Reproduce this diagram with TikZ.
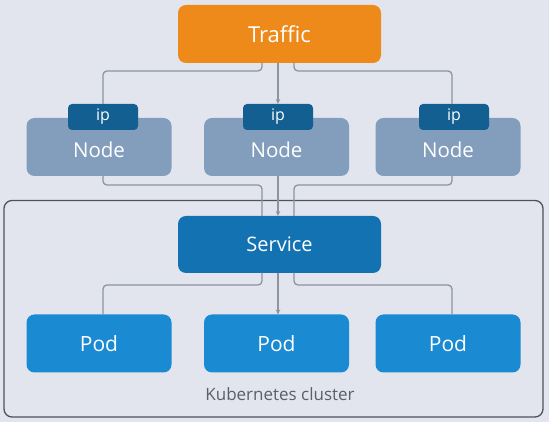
\documentclass[tikz,border=0pt]{standalone}
\usepackage{fontspec}
\setmainfont{Open Sans}
\usetikzlibrary{positioning,calc,arrows.meta}

\definecolor{bgcol}{HTML}{E3E5EE}
\definecolor{trafficcol}{HTML}{EE8A1A}
\definecolor{ipcol}{HTML}{135F92}
\definecolor{nodecol}{HTML}{829EBC}
\definecolor{servicecol}{HTML}{1372B2}
\definecolor{podcol}{HTML}{1A8BD2}
\definecolor{wirecol}{HTML}{8C94A0}
\definecolor{framecol}{HTML}{4E535B}
\definecolor{labelcol}{HTML}{5A5F68}

\begin{document}
\begin{tikzpicture}[x=1pt,y=1pt,
	box/.style={rounded corners=8pt,text=white,inner sep=0pt,outer sep=0pt},
	wire/.style={draw=wirecol,line width=1.3pt,rounded corners=4pt},
	arrowwire/.style={wire,-{Stealth[length=5pt,width=4.5pt]}}]
	\fill[bgcol] (0,0) rectangle (549,422);
	\useasboundingbox (0,0) rectangle (549,422);
	% cluster frame
	\node[draw=framecol,line width=1.3pt,rounded corners=8pt,minimum width=539,minimum height=216.5,inner sep=0pt] (cluster) at (273.5,113.25) {};
	\node[text=labelcol,font=\fontsize{17}{20}\selectfont] (clusterlabel) at (280,28) {Kubernetes cluster};
	% boxes
	\node[box,fill=trafficcol,minimum width=203,minimum height=58,font=\fontsize{22}{26}\selectfont] (traffic) at (279.5,388) {Traffic};
	\node[box,fill=nodecol,minimum width=145,minimum height=58,font=\fontsize{20.5}{24}\selectfont,text height=21.6pt,text depth=0pt] (node1) at (99,275) {Node};
	\node[box,fill=nodecol,minimum width=145,minimum height=58,font=\fontsize{20.5}{24}\selectfont,text height=21.6pt,text depth=0pt] (node2) at (276.5,275) {Node};
	\node[box,fill=nodecol,minimum width=145,minimum height=58,font=\fontsize{20.5}{24}\selectfont,text height=21.6pt,text depth=0pt] (node3) at (448,275) {Node};
	\node[box,fill=ipcol,rounded corners=4pt,minimum width=70,minimum height=26,font=\fontsize{16}{19}\selectfont] (ip1) at (103,305) {ip};
	\node[box,fill=ipcol,rounded corners=4pt,minimum width=70,minimum height=26,font=\fontsize{16}{19}\selectfont] (ip2) at (278,305) {ip};
	\node[box,fill=ipcol,rounded corners=4pt,minimum width=70,minimum height=26,font=\fontsize{16}{19}\selectfont] (ip3) at (454,305) {ip};
	\node[box,fill=servicecol,minimum width=203,minimum height=57,font=\fontsize{20}{24}\selectfont] (service) at (279.5,177.5) {Service};
	\node[box,fill=podcol,minimum width=145,minimum height=58,font=\fontsize{21}{25}\selectfont] (pod1) at (99,78.5) {Pod};
	\node[box,fill=podcol,minimum width=145,minimum height=58,font=\fontsize{21}{25}\selectfont] (pod2) at (276.5,78.5) {Pod};
	\node[box,fill=podcol,minimum width=145,minimum height=58,font=\fontsize{21}{25}\selectfont] (pod3) at (448,78.5) {Pod};
	% traffic to nodes
	\draw[wire] ($(traffic.south)+(-17.5,0)$) -- ++(0,-8) -| (ip1.north);
	\draw[arrowwire] (ip2.north |- traffic.south) -- (ip2.north);
	\draw[wire] ($(traffic.south)+(14.5,0)$) -- ++(0,-8) -| ($(ip3.north)+(-2,0)$);
	% nodes to service
	\draw[wire] (ip1.south |- node1.south) -- ++(0,-9) -| ($(service.north)+(-17.5,0)$);
	\draw[arrowwire] (ip2.south |- node2.south) -- (ip2.south |- service.north);
	\draw[wire] ($(ip3.south |- node3.south)+(-2,0)$) -- ++(0,-9) -| ($(service.north)+(14.5,0)$);
	% service to pods
	\draw[wire] ($(service.south)+(-17.5,0)$) -- ++(0,-12) -| (ip1.south |- pod1.north);
	\draw[arrowwire] (ip2.south |- service.south) -- (ip2.south |- pod2.north);
	\draw[wire] ($(service.south)+(14.5,0)$) -- ++(0,-12) -| ($(ip3.south |- pod3.north)+(-2,0)$);
\end{tikzpicture}
\end{document}
